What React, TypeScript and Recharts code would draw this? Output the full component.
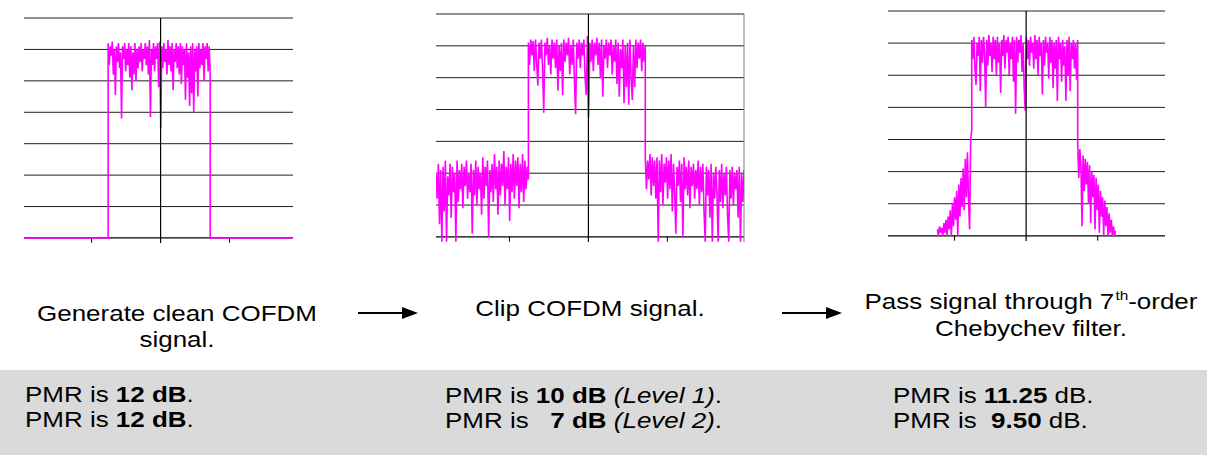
import React from "react";
import { LineChart, Line, XAxis, YAxis, CartesianGrid, ReferenceLine } from "recharts";

// Level axis: 0..70 dB, one grid division per 10 dB
const DB_GRID = [0, 10, 20, 30, 40, 50, 60, 70];
const DB_FLOOR = -1.6;
const TICK_DB = -1.5;
const FREQ_TICKS = [-1, 1];

// occupied band and filter skirts, in channel-spacing units
const BAND_LO = -0.76;
const BAND_HI = 0.72;
const SKIRT_LO = -1.24;
const SKIRT_HI = 1.25;

// clean COFDM: in-band levels (dB)
const cleanBand = [
  62, 55, 61, 58, 62.5, 52, 60, 45.5, 61, 56,
  62, 54, 59, 38, 61, 57, 62, 53, 60, 55,
  62, 51, 61, 47, 59, 52, 62, 50, 60, 54,
  61, 56, 62, 53, 60, 57, 62, 55, 61, 52,
  63, 38.5, 60, 55, 62, 53, 61, 57, 62, 48,
  62.5, 35, 61, 54, 62, 56, 60, 52, 63, 55,
  61, 53, 62, 47, 60, 56, 62, 54, 61, 52,
  62, 49, 61, 55, 60, 44, 62, 51, 59, 42,
  61, 46, 62, 40, 60, 53, 61, 45, 62, 54,
  60, 55, 62, 50, 61, 57, 62, 53, 61, 52,
];

// clipped COFDM: lower out-of-band floor, band, upper out-of-band floor
const clipLeftFloor = [
  20, 12, 23, 4, 21, -1.5, 22, 8, 24, -1.5,
  19, 13, 23, 6, 22, 14, 20, -1.5, 24, 11,
  21, 15, 23, 9, 22, 16, 24, 12, 20, 14,
  23, 1, 21, 13, 24, 10, 22, 15, 20, 7,
  25, 12, 22, 16, 24, 0, 21, 14, 23, 11,
  26, 15, 22, 7, 24, 13, 23, 16, 27, 10,
  22, 15, 25, 5, 23, 14, 26, 12, 24, 16,
  25, 9, 23, 14, 26, 11, 24, 15, 22, 18,
];
const clipBand = [
  61, 54, 62, 57, 61.5, 52, 62, 55, 47.5, 61,
  56, 62, 53, 39, 61, 57, 62.5, 54, 60, 51,
  62, 56, 61, 53, 62, 46, 60, 52, 61, 44.5,
  62, 55, 61, 57, 62.5, 51, 60, 54, 62, 49,
  38.5, 61, 56, 62, 53, 61, 57, 62, 50, 44.5,
  63, 37.5, 61, 55, 62, 52, 61, 57, 62.5, 54,
  61, 50, 62, 44, 60, 56, 62, 53, 61, 57,
  62, 51, 60, 55, 62, 48, 61, 44, 59, 53,
  62, 42, 60, 47, 61, 41.5, 62, 50, 43, 60,
  47, 62, 53, 61, 56, 62, 52, 61, 55, 60,
];
const clipRightFloor = [
  25, 15, 24, 18, 26, 13, 25, 16, 24, 12,
  25, -1.5, 24, 14, 26, 10, 23, 17, 25, 12,
  24, 15, 26, 8, 23, 14, 1, 22, 16, 24,
  11, 23, 0, 25, 15, 22, 13, 24, 9, 22,
  16, 23, 12, 21, 15, 24, 10, 22, 14, 23,
  8, -1.5, 22, 13, 21, 6, 23, -1.5, 20, 12,
  22, 14, -1.5, 21, 11, 23, 9, 20, 13, 22,
  7, -1.5, 21, 12, 22, 10, 20, 15, 21, 6,
  22, -1.5, 20, 11, 21,
];

// after 7th-order Chebychev filter: lower skirt, band, upper skirt
const filterLeftSkirt = [
  2, 0, 3, 1, 2.5, 0, 4, 1, 5, 0,
  6, 2, 8, 0, 10, 3, 12, 5, 14, 0,
  16, 6, 18, 9, 21, 8, 24, 12, 26, 11,
  2, 30, 33,
];
const filterBand = [
  61, 55, 62, 52, 47, 60, 56, 62, 45, 61,
  54, 62, 57, 40, 61, 53, 62.5, 56, 60, 51,
  62, 55, 61, 50, 62, 54, 60, 44.5, 61, 56,
  62.5, 52, 61, 57, 62, 50, 60, 55, 62, 48,
  61, 38, 62, 54, 61, 57, 62.5, 51, 60, 46,
  39, 62, 55, 61, 53, 62, 57, 60, 52, 62.5,
  55, 61, 50, 62, 56, 60, 44, 61, 53, 62,
  57, 60, 49, 62, 54, 61, 46, 60, 52, 61,
  42, 62, 55, 60, 48, 61, 53, 59, 42, 61,
  50, 62, 45, 60, 55, 61, 52, 60, 48.5, 61,
];
const filterRightSkirt = [
  29, 18, 27, 22, 3, 25, 14, 24, 16, 23,
  10, 22, 4, 20, 12, 19, 2, 18, 8, 16,
  1, 14, 6, 12, 0, 11, 3, 9, 0, 7,
  1, 5, 0, 3, 0, 1.5,
];

type Pt = { f: number; db: number };

// spread levels over a uniform frequency grid, both ends included
const sampled = (from: number, to: number, levels: number[]): Pt[] => {
  const step = (to - from) / (levels.length - 1);
  return levels.map((db, i) => ({ f: from + i * step, db }));
};

const cleanDomain: [number, number] = [-1.98, 1.92];
const clipDomain: [number, number] = [-1.93, 1.97];
const filterDomain: [number, number] = [-1.93, 1.94];

const cleanData: Pt[] = [
  { f: cleanDomain[0], db: 0 },
  { f: BAND_LO, db: 0 },
  ...sampled(BAND_LO, BAND_HI, cleanBand),
  { f: BAND_HI, db: 0 },
  { f: cleanDomain[1], db: 0 },
];

const clipData: Pt[] = [
  ...sampled(clipDomain[0], BAND_LO, clipLeftFloor),
  ...sampled(BAND_LO, BAND_HI, clipBand),
  ...sampled(BAND_HI, clipDomain[1], clipRightFloor),
];

const filterData: Pt[] = [
  ...sampled(SKIRT_LO, BAND_LO, filterLeftSkirt),
  ...sampled(BAND_LO, BAND_HI, filterBand),
  ...sampled(BAND_HI, SKIRT_HI, filterRightSkirt),
];

const panels = [
  { key: "clean", data: cleanData, xDomain: cleanDomain, left: 24, top: 18, width: 269, height: 225, frame: false },
  { key: "clip", data: clipData, xDomain: clipDomain, left: 436, top: 14, width: 308, height: 228, frame: true },
  { key: "filter", data: filterData, xDomain: filterDomain, left: 888, top: 11, width: 277, height: 230, frame: false },
];

const MAGENTA = "#ff00ff";
const GRID = "#1e1e1e";

interface SpectrumProps {
  data: Pt[];
  xDomain: [number, number];
  left: number;
  top: number;
  width: number;
  height: number;
  frame: boolean;
}

const Spectrum: React.FC<SpectrumProps> = ({ data, xDomain, left, top, width, height, frame }) => (
  <div style={{ position: "absolute", left: left - 1, top: top - 2 }}>
    <LineChart
      width={width + 2}
      height={height + 4}
      data={data}
      margin={{ top: 2, right: 1, bottom: 2, left: 1 }}
    >
      <XAxis dataKey="f" type="number" domain={xDomain} hide allowDataOverflow />
      <YAxis type="number" domain={[DB_FLOOR, 70]} ticks={DB_GRID} hide allowDataOverflow />
      <CartesianGrid vertical={false} horizontalValues={DB_GRID} stroke={GRID} strokeWidth={1} />
      <ReferenceLine y={0} stroke="#000" strokeWidth={1.2} />
      {FREQ_TICKS.map((f) => (
        <ReferenceLine
          key={f}
          segment={[{ x: f, y: 0 }, { x: f, y: TICK_DB }]}
          stroke="#000"
        />
      ))}
      {frame && <ReferenceLine x={xDomain[1]} stroke="#808080" />}
      <Line
        type="linear"
        dataKey="db"
        stroke={MAGENTA}
        strokeWidth={1.6}
        dot={false}
        activeDot={false}
        isAnimationActive={false}
      />
      <ReferenceLine x={0} stroke="#000" strokeWidth={1.2} />
    </LineChart>
  </div>
);

const FONT = '"Liberation Sans", Arial, Helvetica, sans-serif';
const STRETCH = 1.18;

const textBase: React.CSSProperties = {
  position: "absolute",
  fontFamily: FONT,
  fontSize: 22,
  color: "#000",
  whiteSpace: "pre",
};

// one centred line of caption text
const Centered: React.FC<{ cx: number; top: number; children: React.ReactNode }> = ({ cx, top, children }) => (
  <div
    style={{
      ...textBase,
      left: cx,
      top,
      lineHeight: "26px",
      transform: `translateX(-50%) scaleX(${STRETCH})`,
    }}
  >
    {children}
  </div>
);

// one left-aligned line of the PMR notes
const NoteLine: React.FC<{ x: number; top: number; children: React.ReactNode }> = ({ x, top, children }) => (
  <div
    style={{
      ...textBase,
      left: x,
      top,
      lineHeight: "25px",
      transformOrigin: "0 0",
      transform: `scaleX(${STRETCH})`,
    }}
  >
    {children}
  </div>
);

const arrows = [
  { x1: 358, x2: 418, y: 313 },
  { x1: 782, x2: 842, y: 313 },
];

export default function App() {
  return (
    <div style={{ position: "relative", width: 1207, height: 455, background: "#fff", overflow: "hidden" }}>
      <style>{"body{margin:0}"}</style>

      {panels.map((p) => (
        <Spectrum
          key={p.key}
          data={p.data}
          xDomain={p.xDomain}
          left={p.left}
          top={p.top}
          width={p.width}
          height={p.height}
          frame={p.frame}
        />
      ))}

      <svg width={1207} height={455} style={{ position: "absolute", left: 0, top: 0 }}>
        {arrows.map((a) => (
          <g key={a.x1}>
            <line x1={a.x1} y1={a.y} x2={a.x2 - 14} y2={a.y} stroke="#000" strokeWidth={1.8} />
            <polygon
              points={`${a.x2 - 16},${a.y - 6} ${a.x2},${a.y} ${a.x2 - 16},${a.y + 6}`}
              fill="#000"
            />
          </g>
        ))}
      </svg>

      <Centered cx={177} top={301.4}>Generate clean COFDM</Centered>
      <Centered cx={177} top={327.4}>signal.</Centered>
      <Centered cx={590} top={296.4}>Clip COFDM signal.</Centered>
      <Centered cx={1031} top={288.7}>
        <span>Pass signal through 7</span>
        <span style={{ fontSize: 13, position: "relative", top: -9, marginLeft: 1 }}>th</span>
        <span>-order</span>
      </Centered>
      <Centered cx={1031} top={316.1}>Chebychev filter.</Centered>

      <div style={{ position: "absolute", left: 0, top: 370, width: 1207, height: 85, background: "#dadada" }} />

      <NoteLine x={25} top={381.7}>
        PMR is <b>12 dB</b>.
      </NoteLine>
      <NoteLine x={25} top={406.7}>
        PMR is <b>12 dB</b>.
      </NoteLine>

      <NoteLine x={445} top={383.2}>
        PMR is <b>10 dB</b> <i>(Level 1)</i>.
      </NoteLine>
      <NoteLine x={445} top={408.2}>
        {"PMR is   "}
        <b>7 dB</b> <i>(Level 2)</i>.
      </NoteLine>

      <NoteLine x={893} top={383.2}>
        PMR is <b>11.25</b> dB.
      </NoteLine>
      <NoteLine x={893} top={408.2}>
        {"PMR is  "}
        <b>9.50</b> dB.
      </NoteLine>
    </div>
  );
}
